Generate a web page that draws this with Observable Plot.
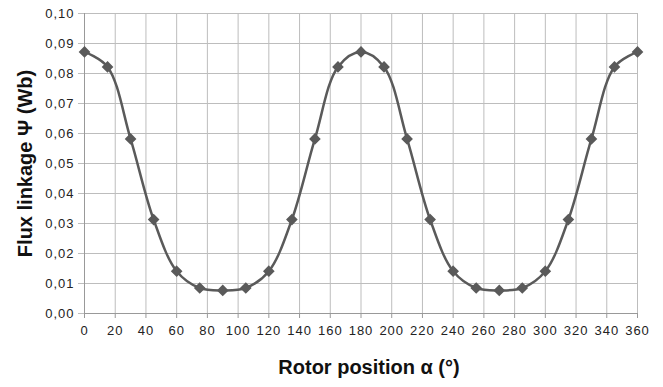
<!DOCTYPE html>
<html><head><meta charset="utf-8">
<script src="https://cdn.jsdelivr.net/npm/d3@7"></script>
<script src="https://cdn.jsdelivr.net/npm/@observablehq/plot@0.6"></script>
<style>
html,body{margin:0;padding:0;background:#fff;}
svg{font-family:"Liberation Sans",Arial,sans-serif;}
svg g[aria-label="x-axis tick label"] text, svg g[aria-label="y-axis tick label"] text{letter-spacing:1px;}
</style></head>
<body><div id="chart"></div>
<script>
const angles = [0,15,30,45,60,75,90,105,120,135,150,165,180,195,210,225,240,255,270,285,300,315,330,345,360];
const flux = [0.0872,0.0822,0.0582,0.0313,0.0141,0.0085,0.0077,0.0085,0.0141,0.0313,0.0582,0.0822,0.0872,0.0822,0.0582,0.0313,0.0141,0.0085,0.0077,0.0085,0.0141,0.0313,0.0582,0.0822,0.0872];
const xTicks = d3.range(0, 361, 20);
const yTicks = [0,0.01,0.02,0.03,0.04,0.05,0.06,0.07,0.08,0.09,0.10];
const xLabel = "Rotor position α (°)";
const yLabel = "Flux linkage Ψ (Wb)";

const data = angles.map((a,i)=>({a, f: flux[i]}));
const fmt = v => d3.format(".2f")(v).replace(".", ",");

const chart = Plot.plot({
  width: 663, height: 387,
  marginLeft: 84, marginRight: 26, marginTop: 13, marginBottom: 74,
  style: {fontFamily: "Liberation Sans, Arial, sans-serif", fontSize: "13px", color: "#222"},
  x: {domain: [0,360], ticks: xTicks},
  y: {domain: [0,0.10], ticks: yTicks},
  marks: [
    Plot.gridX(xTicks, {stroke: "#bdbdbd", strokeOpacity: 1}),
    Plot.gridY(yTicks, {stroke: "#bdbdbd", strokeOpacity: 1}),
    Plot.ruleX([0], {stroke: "#999"}),
    Plot.ruleY([0], {stroke: "#999"}),
    Plot.axisX(xTicks, {tickSize: 5, tickPadding: 7, stroke: "#999", label: null, fontSize: 13, fill: "#222"}),
    Plot.axisY(yTicks, {tickSize: 6, tickPadding: 4, stroke: "#bdbdbd", label: null, tickFormat: fmt, fontSize: 13, fill: "#222"}),
    Plot.line(data, {x: "a", y: "f", curve: "catmull-rom", stroke: "#5a5a5a", strokeWidth: 2.5}),
    Plot.dot(data, {x: "a", y: "f", symbol: "diamond2", r: 4.3, fill: "#5a5a5a", stroke: "#5a5a5a"}),
    Plot.text([xLabel], {frameAnchor: "bottom", dx: 8, dy: 60, fontSize: 20, fontWeight: "bold", fill: "#111"}),
    Plot.text([yLabel], {frameAnchor: "left", textAnchor: "middle", dx: -59, rotate: -90, fontSize: 20, fontWeight: "bold", fill: "#111"})
  ]
});
document.getElementById("chart").appendChild(chart);
</script>
</body></html>
